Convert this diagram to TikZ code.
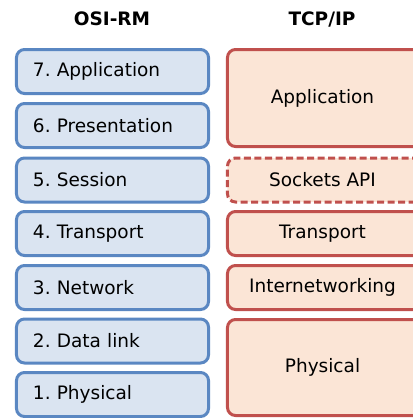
\documentclass[tikz,border=0pt]{standalone}
\usepackage{fontspec}
\setmainfont{DejaVu Sans}
\usetikzlibrary{positioning}
\frenchspacing
\definecolor{osiline}{HTML}{5A87C2}
\definecolor{osifill}{HTML}{DAE4F1}
\definecolor{tcpline}{HTML}{C0504D}
\definecolor{tcpfill}{HTML}{FBE5D6}
\tikzset{
  osilayer/.style={draw=osiline,fill=osifill,line width=3bp,rounded corners=8bp,
    minimum height=44bp,text width=159bp,align=left,inner xsep=16.5bp,
    font=\fontsize{18.5bp}{22bp}\selectfont},
  tcplayer/.style={draw=tcpline,fill=tcpfill,line width=3bp,rounded corners=8bp,
    minimum width=210bp,minimum height=44bp},
  tcptext/.style={font=\fontsize{18.5bp}{22bp}\selectfont},
  heading/.style={font=\fontsize{18.5bp}{22bp}\selectfont\bfseries}
}

\begin{document}
\begin{tikzpicture}[x=1bp,y=-1bp]
    \useasboundingbox (0,0) rectangle (413,418);
    \begin{scope}
      \clip (0,0) rectangle (413,418);
      % headings
      \node[heading] (osi) at (112,19) {OSI-RM};
      \node[heading] (tcp) at (322,19) {TCP/IP};
      % OSI reference model
      \node[osilayer] (app7) at (112.5,71.5) {7. Application};
      \node[osilayer] (pres6) at (112.5,125.5) {6. Presentation};
      \node[osilayer] (sess5) at (112.5,180) {5. Session};
      \node[osilayer] (trans4) at (112.5,233.5) {4. Transport};
      \node[osilayer] (net3) at (112.5,287.5) {3. Network};
      \node[osilayer] (link2) at (112.5,341) {2. Data link};
      \node[osilayer] (phys1) at (112.5,394.5) {1. Physical};
      % TCP/IP model, right edge runs off the page
      \node[tcplayer,minimum height=97bp] (tapp) at (332.5,98) {};
      \node[tcplayer,dashed,dash pattern=on 7bp off 3.5bp] (tsock) at (332.5,180) {};
      \node[tcplayer] (ttrans) at (332.5,233.5) {};
      \node[tcplayer] (tinet) at (332.5,287.5) {};
      \node[tcplayer,minimum height=96bp] (tphys) at (332.5,367.5) {};
      \node[tcptext] (tappl) at (322.5,98) {Application};
      \node[tcptext] (tsockl) at (322.5,180) {Sockets API};
      \node[tcptext] (ttransl) at (322.5,233.5) {Transport};
      \node[tcptext] (tinetl) at (322.5,287.5) {Internetworking};
      \node[tcptext] (tphysl) at (322.5,367.5) {Physical};
    \end{scope}
\end{tikzpicture}
\end{document}
